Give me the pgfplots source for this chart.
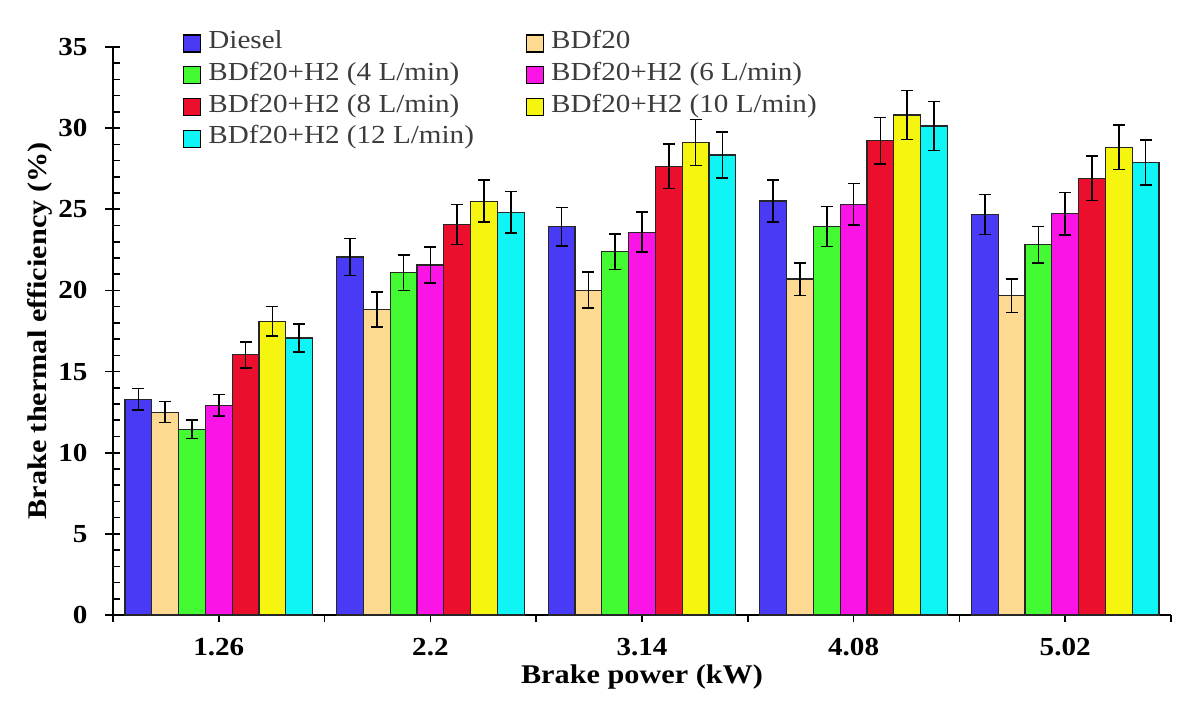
\documentclass[border=0pt]{standalone}
\usepackage{fontspec}
\setmainfont{Liberation Serif}[FakeStretch=1.12]
\usepackage{pgfplots}
\pgfplotsset{compat=1.18}
\usepackage{pgfplotstable}

\definecolor{cDiesel}{RGB}{72,58,245}
\definecolor{cBDf}{RGB}{253,217,146}
\definecolor{cFour}{RGB}{68,250,50}
\definecolor{cSix}{RGB}{250,20,230}
\definecolor{cEight}{RGB}{235,15,45}
\definecolor{cTen}{RGB}{245,245,15}
\definecolor{cTwelve}{RGB}{15,245,245}
\definecolor{legtext}{RGB}{60,60,60}

\pgfplotstableread{
x y e
0 13.30 0.65
1 22.06 1.13
2 23.92 1.20
3 25.51 1.30
4 24.68 1.24
}\tDiesel
\pgfplotstableread{
x y e
0 12.50 0.65
1 18.82 1.07
2 20.02 1.10
3 20.70 1.00
4 19.67 1.03
}\tBDf
\pgfplotstableread{
x y e
0 11.45 0.58
1 21.09 1.10
2 22.39 1.10
3 23.94 1.24
4 22.81 1.13
}\tFour
\pgfplotstableread{
x y e
0 12.92 0.66
1 21.57 1.10
2 23.59 1.23
3 25.30 1.28
4 24.72 1.32
}\tSix
\pgfplotstableread{
x y e
0 16.03 0.80
1 24.06 1.24
2 27.65 1.37
3 29.22 1.44
4 26.91 1.38
}\tEight
\pgfplotstableread{
x y e
0 18.10 0.90
1 25.50 1.30
2 29.12 1.42
3 30.81 1.50
4 28.83 1.38
}\tTen
\pgfplotstableread{
x y e
0 17.07 0.85
1 24.82 1.28
2 28.35 1.42
3 30.13 1.50
4 27.88 1.38
}\tTwelve

\pgfplotsset{
  barst/.style={fill=#1, draw=black!85, line width=0.6pt,
    error bars/.cd, y dir=both, y explicit,
    error bar style={black, line width=0.8pt},
    error mark options={black, line width=0.8pt, mark size=3pt, rotate=90}},
}

\begin{document}
\begin{tikzpicture}
\begin{axis}[
  at={(0pt,0pt)}, anchor=south west,
  scale only axis, width=529pt, height=284pt,
  ybar=0pt, bar width=13.4pt,
  xmin=-0.5, xmax=4.5, ymin=0, ymax=35,
  axis lines=left,
  axis line style={-, line width=0.9pt, black},
  xtick={0,1,2,3,4},
  xticklabels={1.26,2.2,3.14,4.08,5.02},
  major x tick style={draw=none},
  extra x ticks={-0.5,0,0.5,1,1.5,2,2.5,3,3.5,4,4.5},
  extra x tick labels={},
  extra x tick style={major tick length=3.5pt, major x tick style={draw=black, yshift=-1.75pt}},
  ytick={0,5,...,35},
  minor y tick num=4,
  tick align=center,
  major tick length=7.5pt,
  minor tick length=3.5pt,
  minor y tick style={xshift=1.75pt},
  tick style={black, line width=0.8pt},
  /pgf/number format/assume math mode=true,
  ticklabel style={font=\bfseries\fontsize{13}{15}\selectfont},
  xticklabel style={anchor=center, yshift=-12.5pt},
  yticklabel style={anchor=east, xshift=-5.5pt},
  xlabel={Brake power (kW)},
  ylabel={Brake thermal efficiency (\%)},
  label style={font=\bfseries\fontsize{13.5}{15}\selectfont},
  xlabel style={at={(axis description cs:0.5,-0.110)}, anchor=center},
  ylabel style={at={(axis description cs:-0.069,0.5)}, anchor=center},
  legend columns=2,
  legend cell align=left,
  legend image code/.code={\draw[#1,draw=black, line width=0.6pt] (0pt,-4pt) rectangle (8.5pt,4.5pt);},
  legend style={draw=none, fill=none, inner sep=0pt,
    at={(axis description cs:0.066,1.034)}, anchor=north west,
    font=\fontsize{13}{15}\selectfont, text=legtext,
    nodes={inner sep=0pt, text height=10.2pt, text depth=5.7pt},
    /tikz/every odd column/.append style={column sep=3.5pt},
    /tikz/every even column/.append style={column sep=26pt}},
]
\addplot[barst=cDiesel] table[x=x,y=y,y error=e]{\tDiesel};
\addplot[barst=cBDf] table[x=x,y=y,y error=e]{\tBDf};
\addplot[barst=cFour] table[x=x,y=y,y error=e]{\tFour};
\addplot[barst=cSix] table[x=x,y=y,y error=e]{\tSix};
\addplot[barst=cEight] table[x=x,y=y,y error=e]{\tEight};
\addplot[barst=cTen] table[x=x,y=y,y error=e]{\tTen};
\addplot[barst=cTwelve] table[x=x,y=y,y error=e]{\tTwelve};
\legend{Diesel, BDf20, BDf20+H2 (4 L/min), BDf20+H2 (6 L/min), BDf20+H2 (8 L/min), BDf20+H2 (10 L/min), BDf20+H2 (12 L/min)}
\end{axis}
\pgfresetboundingbox
\path[use as bounding box] (-56.5pt,-46.5pt) rectangle (543.5pt,307.5pt);
\end{tikzpicture}
\end{document}
